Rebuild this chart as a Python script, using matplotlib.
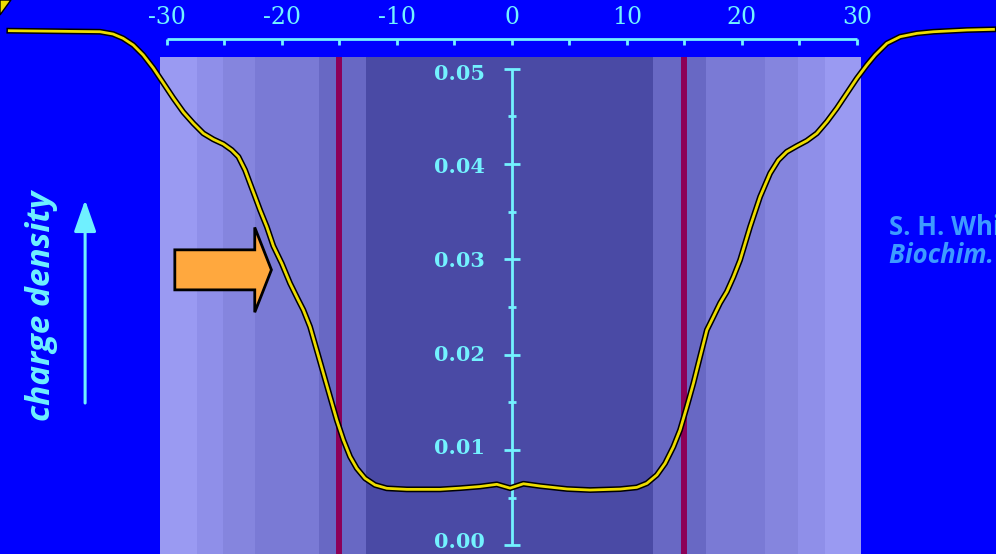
"""
Charge density profile across a lipid bilayer
"""
import numpy as np
import matplotlib.pyplot as plt
import matplotlib.patheffects as pe
from matplotlib.patches import Rectangle, Polygon, FancyArrow

# distance from bilayer centre (A) and charge density
pos = [-43.69, -35.80, -34.67, -33.80, -32.92, -32.05, -31.17, -30.30, -29.43, -28.56,
       -27.69, -26.82, -25.95, -25.08, -24.35, -23.77, -23.19, -22.76, -22.32, -21.89,
       -21.30, -20.73, -20.00, -19.28, -18.56, -18.12, -17.54, -16.96, -16.38, -15.80,
       -15.22, -14.64, -14.06, -13.48, -12.76, -11.89, -10.87, -9.13, -6.23, -4.50,
       -2.76, -1.30, -0.15, 1.01, 2.46, 4.81, 6.81, 9.42, 10.87, 11.74,
       12.61, 13.33, 14.05, 14.63, 15.22, 15.79, 16.37, 16.96, 17.53, 18.11,
       18.70, 19.27, 19.85, 20.72, 21.59, 22.46, 23.18, 23.91, 24.78, 25.65,
       26.52, 27.39, 28.26, 29.13, 30.00, 30.87, 31.59, 32.61, 33.77, 35.22,
       36.66, 39.57, 41.88]
density = [0.05399, 0.05388, 0.05364, 0.05319, 0.05249, 0.05144, 0.05007, 0.04850, 0.04692, 0.04545,
           0.04427, 0.04322, 0.04259, 0.04210, 0.04147, 0.04077, 0.03937, 0.03798, 0.03657, 0.03518,
           0.03342, 0.03140, 0.02958, 0.02749, 0.02573, 0.02469, 0.02293, 0.02049, 0.01804, 0.01559,
           0.01315, 0.01105, 0.00930, 0.00808, 0.00703, 0.00633, 0.00598, 0.00587, 0.00587, 0.00600,
           0.00617, 0.00640, 0.00600, 0.00646, 0.00622, 0.00591, 0.00580, 0.00590, 0.00608, 0.00650,
           0.00738, 0.00860, 0.01034, 0.01210, 0.01454, 0.01700, 0.01979, 0.02259, 0.02398, 0.02542,
           0.02661, 0.02815, 0.02993, 0.03342, 0.03657, 0.03903, 0.04042, 0.04129, 0.04189, 0.04245,
           0.04322, 0.04444, 0.04585, 0.04742, 0.04899, 0.05039, 0.05144, 0.05266, 0.05336, 0.05371,
           0.05388, 0.05406, 0.05413]

# bilayer regions (shaded bands) and their colours
band_edges = [-30.6, -27.4, -25.1, -22.3, -16.8, -12.7, 12.3, 16.9, 22.0, 24.9, 27.2, 30.4]
band_colors = ['#9a9af2', '#8f8fe9', '#8585de', '#7a7ad5', '#6868c4', '#4a4aa5',
               '#6868c4', '#7a7ad5', '#8585de', '#8f8fe9', '#9a9af2']
membrane_edges = [-15, 15]

x_ticks = np.arange(-30, 31, 5)
x_labels = np.arange(-30, 31, 10)
y_major = np.arange(0, 0.051, 0.01)
y_minor = np.arange(0.005, 0.05, 0.01)

cyan = '#73f2ff'
band_top = 0.05128
top_axis_y = 0.05315

fig = plt.figure(figsize=(9.96, 5.54), dpi=100)
fig.patch.set_facecolor('#0000ff')
ax = fig.add_axes([0, 0, 1, 1])
ax.set_facecolor('#0000ff')
ax.set_xlim(-44.5, 42.1)
ax.set_ylim(-0.00091, 0.05721)
ax.set_axis_off()

# shaded bands
for x0, x1, c in zip(band_edges[:-1], band_edges[1:], band_colors):
    ax.add_patch(Rectangle((x0, -0.01), x1 - x0, band_top + 0.01, fc=c, ec='none', zorder=1))
ax.vlines(membrane_edges, -0.01, band_top, color='#8c0058', lw=4.3, zorder=2)

# top distance axis
ax.hlines(top_axis_y, x_ticks[0], x_ticks[-1], color=cyan, lw=2, zorder=3)
ax.vlines(x_ticks, top_axis_y - 0.00067, top_axis_y, color=cyan, lw=2, zorder=3)
for v in x_labels:
    ax.text(v, 0.05469, '%d' % v, color=cyan, fontsize=17, family='DejaVu Serif',
            ha='center', va='baseline', zorder=3)

# vertical density axis at the centre
ax.vlines(0, 0, 0.05, color=cyan, lw=2, zorder=3)
ax.hlines(y_major, -0.7, 0.7, color=cyan, lw=2, zorder=3)
ax.hlines(y_minor, -0.35, 0.35, color=cyan, lw=2, zorder=3)
for v in y_major:
    ax.text(-2.3, -0.00028 + 0.9824 * v, '%.2f' % v, color=cyan, fontsize=15,
            family='DejaVu Serif', weight='bold', ha='right', va='baseline', zorder=3)

# orange pointer arrow
ax.add_patch(FancyArrow(-29.3, 0.0289, 8.4, 0, width=0.0042, head_width=0.0089,
                        head_length=1.45, length_includes_head=True,
                        fc='#ffa83e', ec='black', lw=2, zorder=4))

# charge density curve
ax.plot(pos, density, color='#eedd00', lw=2.0, zorder=5, solid_joinstyle='round',
        path_effects=[pe.Stroke(linewidth=4.2, foreground='black', joinstyle='round'),
                      pe.Normal()])

# y label with arrow
ax.text(-40.9, 0.0251, 'charge density', rotation=90, color='#6ff0ff', fontsize=24,
        family='Open Sans', weight='bold', style='italic', ha='center', va='center')
ax.annotate('', xy=(-37.1, 0.03623), xytext=(-37.1, 0.01493),
            arrowprops=dict(arrowstyle='-|>,head_length=0.97,head_width=0.34',
                            color='#6ff0ff', lw=2.2, mutation_scale=20,
                            shrinkA=0, shrinkB=0))

# reference, cut by the right edge as in the slide
ax.text(32.8, 0.03255, 'S. H. White & W. C. Wimley', color='#3d9bff', fontsize=18.5,
        family='Open Sans', weight='bold', ha='left', va='baseline')
ax.text(32.8, 0.02964, 'Biochim. Biophys. Acta', color='#3d9bff', fontsize=18.5,
        family='Open Sans', weight='bold', style='italic', ha='left', va='baseline')

# corner of a yellow shape peeking in at top left
ax.add_patch(Polygon([(0, 1.0), (0.011, 1.0), (0, 0.973)], closed=True,
                     transform=ax.transAxes, fc='#eedd00', ec='black', lw=1, zorder=6))

fig.savefig('out.png', dpi=100, facecolor=fig.get_facecolor())
